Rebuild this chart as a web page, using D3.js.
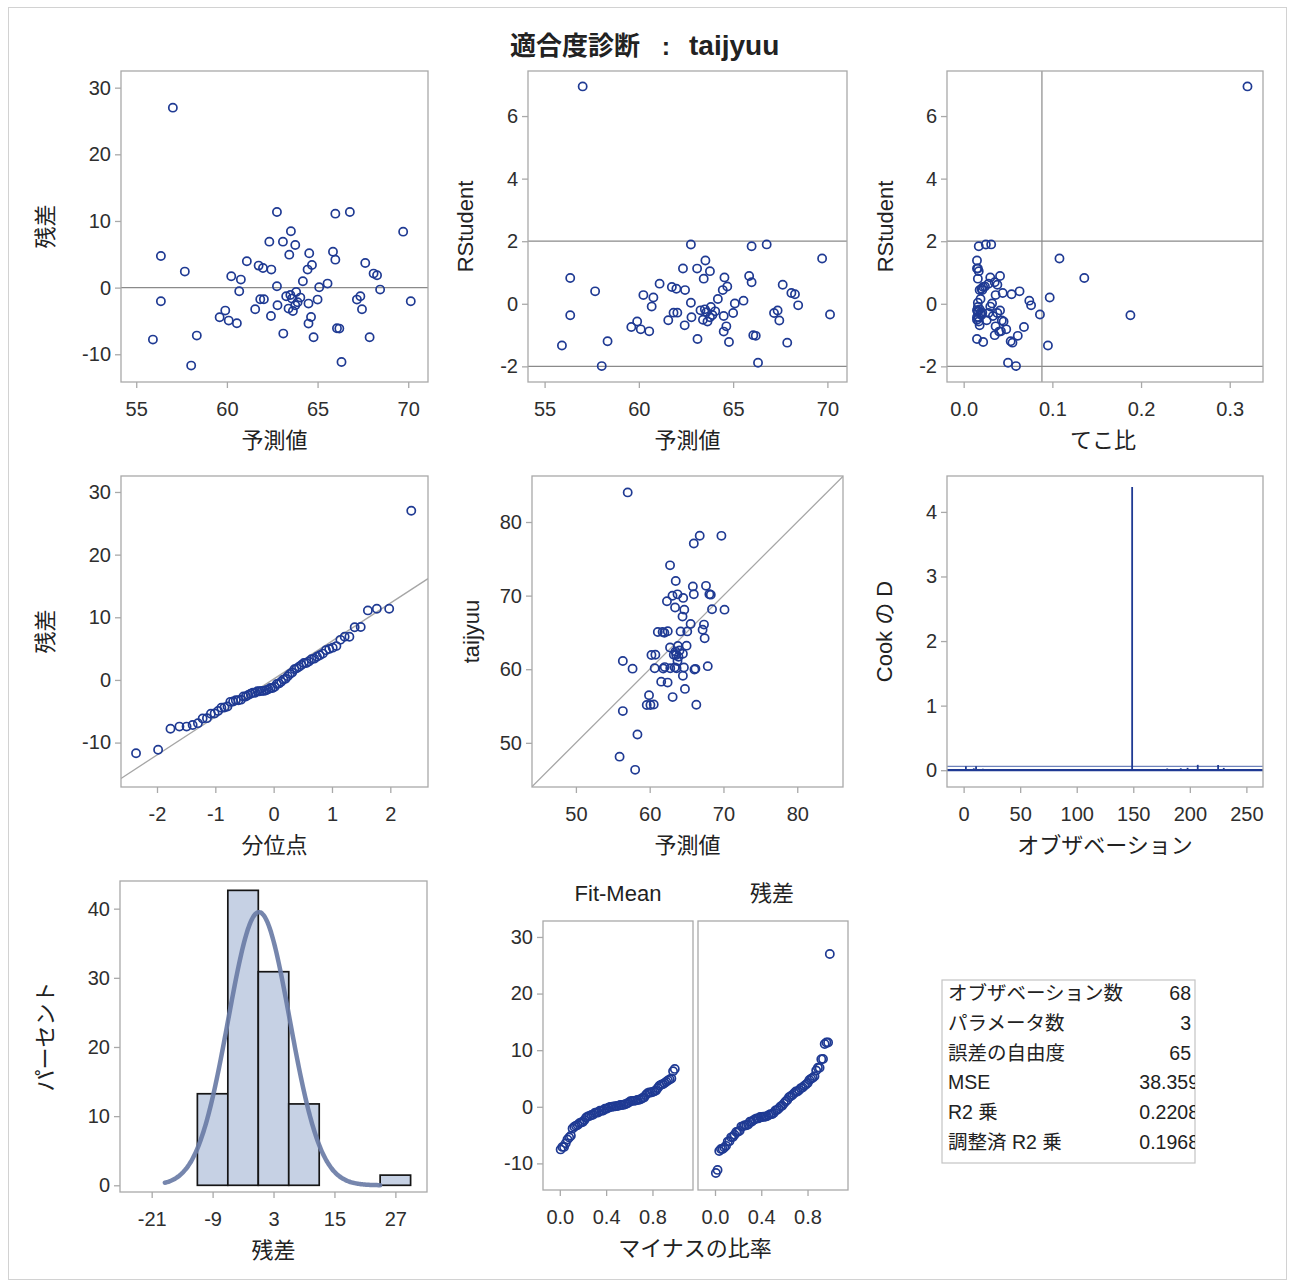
<!DOCTYPE html>
<html>
<head>
<meta charset="utf-8">
<script src="https://cdn.jsdelivr.net/npm/d3@7"></script>
<style>
  body { margin: 0; background: #fff; }
  text { font-family: "Liberation Sans", "Noto Sans CJK JP", sans-serif; }
</style>
</head>
<body>
<div id="chart"></div>
<script>
const predicted = [57.02, 56.36, 56.36, 55.92, 57.68, 58.03, 58.34, 59.6, 59.91, 60.1,
  60.55, 60.24, 60.77, 60.68, 61.1, 61.56, 61.75, 61.99, 62.45, 61.84,
  62.04, 62.34, 62.43, 62.76, 62.76, 62.79, 63.09, 63.11, 63.44, 63.53,
  63.77, 63.27, 63.4, 63.59, 63.77, 63.82, 63.64, 64.05, 64.19, 64.45,
  64.54, 64.69, 64.5, 64.64, 64.5, 64.78, 65.0, 65.09, 65.55, 65.85,
  65.98, 65.98, 66.07, 66.2, 66.32, 66.78, 67.17, 67.36, 67.45, 67.63,
  67.87, 68.09, 68.28, 68.45, 69.72, 70.14, 63.5, 63.9];
const residual = [27.0, 4.75, -2.05, -7.8, 2.4, -11.7, -7.2, -4.45, -3.45, -4.95,
  -5.35, 1.7, 1.2, -0.55, 3.95, -3.25, 3.3, 2.95, 2.7, -1.75,
  -1.75, 6.9, -4.25, 11.35, 0.2, -2.65, 6.9, -6.9, 4.95, 8.45,
  6.4, -1.3, -3.15, -1.65, -2.65, -0.65, -3.5, -1.5, 0.95, 2.7,
  5.15, 3.4, -2.4, -4.4, -5.4, -7.45, -1.8, 0.05, 0.6, 5.4,
  4.2, 11.1, -6.1, -6.15, -11.15, 11.35, -1.8, -1.3, -3.25, 3.7,
  -7.45, 2.1, 1.85, -0.3, 8.4, -2.05, -1.1, -2.2];
const leverage = [0.32, 0.136, 0.188, 0.095, 0.063, 0.059, 0.053, 0.068, 0.045, 0.048,
  0.042, 0.036, 0.097, 0.03, 0.028, 0.026, 0.022, 0.02, 0.018, 0.021,
  0.019, 0.016, 0.018, 0.025, 0.016, 0.017, 0.015, 0.015, 0.016, 0.015,
  0.017, 0.015, 0.015, 0.016, 0.015, 0.016, 0.017, 0.016, 0.019, 0.021,
  0.03, 0.024, 0.033, 0.036, 0.04, 0.022, 0.028, 0.032, 0.074, 0.041,
  0.035, 0.017, 0.035, 0.061, 0.05, 0.031, 0.038, 0.041, 0.043, 0.038,
  0.055, 0.044, 0.054, 0.076, 0.108, 0.086, 0.018, 0.02];
const obsNo = [149, 230, 96, 2, 57, 225, 180, 33, 71, 120,
  164, 5, 88, 140, 19, 201, 44, 108, 173, 26,
  63, 132, 213, 9, 81, 155, 238, 14, 101, 187,
  47, 126, 218, 38, 92, 168, 7, 115, 196, 52,
  143, 234, 23, 76, 159, 209, 30, 84, 136, 177,
  66, 242, 112, 17, 11, 198, 41, 104, 152, 221,
  192, 60, 128, 184, 207, 99, 70, 146];

const statLabels = ["オブザベーション数", "パラメータ数", "誤差の自由度", "MSE", "R2 乗", "調整済 R2 乗"];
const statValues = ["68", "3", "65", "38.359", "0.2208", "0.1968"];
const mse = 38.359, nParams = 3;

const histThresholds = [-12, -6, 0, 6, 12, 18, 24, 30];

// ---- derived regression diagnostics ----
const n = predicted.length;
const observed = predicted.map((p, i) => p + residual[i]);
const rStd = residual.map((e, i) => e / Math.sqrt(mse * (1 - leverage[i])));
const rstudent = rStd.map(r => r * Math.sqrt((n - nParams - 1) / (n - nParams - r * r)));
const cooksD = rStd.map((r, i) => r * r / nParams * leverage[i] / (1 - leverage[i]));

function probit(p) {
  const a = [-3.969683028665376e+01, 2.209460984245205e+02, -2.759285104469687e+02, 1.383577518672690e+02, -3.066479806614716e+01, 2.506628277459239e+00];
  const b = [-5.447609879822406e+01, 1.615858368580409e+02, -1.556989798598866e+02, 6.680131188771972e+01, -1.328068155288572e+01];
  const c = [-7.784894002430293e-03, -3.223964580411365e-01, -2.400758277161838e+00, -2.549732539343734e+00, 4.374664141464968e+00, 2.938163982698783e+00];
  const d = [7.784695709041462e-03, 3.224671290700398e-01, 2.445134137142996e+00, 3.754408661907416e+00];
  const tail = q => (((((c[0] * q + c[1]) * q + c[2]) * q + c[3]) * q + c[4]) * q + c[5]) / ((((d[0] * q + d[1]) * q + d[2]) * q + d[3]) * q + 1);
  if (p < 0.02425) return tail(Math.sqrt(-2 * Math.log(p)));
  if (p > 1 - 0.02425) return -tail(Math.sqrt(-2 * Math.log(1 - p)));
  const q = p - 0.5, r = q * q;
  return (((((a[0] * r + a[1]) * r + a[2]) * r + a[3]) * r + a[4]) * r + a[5]) * q /
    (((((b[0] * r + b[1]) * r + b[2]) * r + b[3]) * r + b[4]) * r + 1);
}

const resMean = d3.mean(residual), resSd = d3.deviation(residual);
const sortedRes = residual.slice().sort(d3.ascending);
const qq = sortedRes.map((v, i) => ({q: probit((i + 1 - 0.375) / (n + 0.25)), v}));
const predMean = d3.mean(predicted);
const fitSpread = predicted.map(p => p - predMean).sort(d3.ascending).map((v, i) => ({f: (i + 0.5) / n, v}));
const resSpread = sortedRes.map((v, i) => ({f: (i + 0.5) / n, v}));

// ---- drawing ----
const W = 1289, H = 1282;
const MARK = "#1f3a93", FRAME = "#a9a9a9", REF = "#8a8a8a";
const svg = d3.select("#chart").append("svg").attr("width", W).attr("height", H);
svg.append("rect").attr("x", 8.5).attr("y", 7.5).attr("width", 1278).attr("height", 1272)
  .attr("fill", "none").attr("stroke", "#d2d2d2");

// title
svg.append("text").attr("x", 640).attr("y", 55).attr("text-anchor", "end")
  .attr("font-size", 26).attr("font-weight", "bold").attr("fill", "#222").text("適合度診断");
svg.append("text").attr("x", 666).attr("y", 55).attr("text-anchor", "middle")
  .attr("font-size", 25).attr("font-weight", "bold").attr("fill", "#222").text(":");
svg.append("text").attr("x", 689).attr("y", 55)
  .attr("font-size", 28).attr("font-weight", "bold").attr("fill", "#222").text("taijyuu");

let clipCount = 0;
const dash = spec => d => d3.format(spec)(d).replace("−", "-");

function makePanel(box, xDom, yDom) {
  const id = "clip" + (clipCount++);
  svg.append("clipPath").attr("id", id).append("rect")
    .attr("x", box.x0).attr("y", box.y0).attr("width", box.x1 - box.x0).attr("height", box.y1 - box.y0);
  const g = svg.append("g");
  const x = d3.scaleLinear().domain(xDom).range([box.x0, box.x1]);
  const y = d3.scaleLinear().domain(yDom).range([box.y1, box.y0]);
  const plot = g.append("g").attr("clip-path", `url(#${id})`);
  return {g, x, y, plot, box};
}

function frame(p) {
  p.g.append("rect").attr("x", p.box.x0).attr("y", p.box.y0)
    .attr("width", p.box.x1 - p.box.x0).attr("height", p.box.y1 - p.box.y0)
    .attr("fill", "none").attr("stroke", FRAME).attr("stroke-width", 1.3);
}

function styleAxis(sel) {
  sel.select(".domain").remove();
  sel.selectAll(".tick line").attr("stroke", FRAME).attr("stroke-width", 1.3);
  sel.selectAll(".tick text").attr("font-size", 20).attr("fill", "#2e2e2e")
    .attr("font-family", "Liberation Sans, sans-serif");
}

function xAxis(p, ticks, fmt) {
  p.g.append("g").attr("transform", `translate(0,${p.box.y1})`)
    .call(d3.axisBottom(p.x).tickValues(ticks).tickFormat(fmt).tickSize(6).tickPadding(14))
    .call(styleAxis);
}

function yAxis(p, ticks, fmt) {
  p.g.append("g").attr("transform", `translate(${p.box.x0},0)`)
    .call(d3.axisLeft(p.y).tickValues(ticks).tickFormat(fmt).tickSize(6).tickPadding(4))
    .call(styleAxis);
}

function xLabel(p, txt, y, cx) {
  svg.append("text").attr("x", cx ?? (p.box.x0 + p.box.x1) / 2).attr("y", y)
    .attr("text-anchor", "middle").attr("dominant-baseline", "central")
    .attr("font-size", 22).attr("fill", "#222").text(txt);
}

function yLabel(p, txt, x) {
  const cy = (p.box.y0 + p.box.y1) / 2;
  svg.append("text").attr("transform", `translate(${x},${cy}) rotate(-90)`)
    .attr("text-anchor", "middle").attr("dominant-baseline", "central")
    .attr("font-size", 22).attr("fill", "#222").text(txt);
}

function hline(p, v, color, w) {
  p.plot.append("line").attr("x1", p.box.x0).attr("x2", p.box.x1)
    .attr("y1", p.y(v)).attr("y2", p.y(v)).attr("stroke", color).attr("stroke-width", w);
}

function vline(p, v, color, w) {
  p.plot.append("line").attr("y1", p.box.y0).attr("y2", p.box.y1)
    .attr("x1", p.x(v)).attr("x2", p.x(v)).attr("stroke", color).attr("stroke-width", w);
}

function markers(p, xs, ys) {
  p.plot.append("g").selectAll("circle").data(xs).join("circle")
    .attr("cx", d => p.x(d)).attr("cy", (d, i) => p.y(ys[i])).attr("r", 4.1)
    .attr("fill", "none").attr("stroke", MARK).attr("stroke-width", 1.7);
}

// 1. residual vs predicted
const p1 = makePanel({x0: 121, x1: 428, y0: 71, y1: 382}, [54.16, 71.09], [-14.16, 32.5]);
hline(p1, 0, REF, 1.2);
markers(p1, predicted, residual);
frame(p1);
xAxis(p1, [55, 60, 65, 70], dash("d"));
yAxis(p1, [-10, 0, 10, 20, 30], dash("d"));
xLabel(p1, "予測値", 440);
yLabel(p1, "残差", 45);

// 2. RStudent vs predicted
const p2 = makePanel({x0: 528, x1: 847, y0: 71, y1: 382}, [54.12, 71.04], [-2.5, 7.44]);
hline(p2, 2, REF, 1.2);
hline(p2, -2, REF, 1.2);
markers(p2, predicted, rstudent);
frame(p2);
xAxis(p2, [55, 60, 65, 70], dash("d"));
yAxis(p2, [-2, 0, 2, 4, 6], dash("d"));
xLabel(p2, "予測値", 440);
yLabel(p2, "RStudent", 465);

// 3. RStudent vs leverage
const p3 = makePanel({x0: 947, x1: 1263, y0: 71, y1: 382}, [-0.0188, 0.3375], [-2.5, 7.44]);
hline(p3, 2, REF, 1.2);
hline(p3, -2, REF, 1.2);
vline(p3, 2 * nParams / n, REF, 1.2);
markers(p3, leverage, rstudent);
frame(p3);
xAxis(p3, [0, 0.1, 0.2, 0.3], dash(".1f"));
yAxis(p3, [-2, 0, 2, 4, 6], dash("d"));
xLabel(p3, "てこ比", 440, 1103);
yLabel(p3, "RStudent", 885);

// 4. normal quantile plot of residuals
const p4 = makePanel({x0: 121, x1: 428, y0: 476, y1: 787}, [-2.617, 2.646], [-17.09, 32.55]);
p4.plot.append("line")
  .attr("x1", p4.x(-2.617)).attr("y1", p4.y(resMean - 2.617 * resSd))
  .attr("x2", p4.x(2.646)).attr("y2", p4.y(resMean + 2.646 * resSd))
  .attr("stroke", "#a6a6a6").attr("stroke-width", 1.3);
markers(p4, qq.map(d => d.q), qq.map(d => d.v));
frame(p4);
xAxis(p4, [-2, -1, 0, 1, 2], dash("d"));
yAxis(p4, [-10, 0, 10, 20, 30], dash("d"));
xLabel(p4, "分位点", 845);
yLabel(p4, "残差", 45);

// 5. observed vs predicted
const p5 = makePanel({x0: 532, x1: 843, y0: 476, y1: 787}, [44.05, 86.2], [44.0, 86.25]);
p5.plot.append("line")
  .attr("x1", p5.x(44)).attr("y1", p5.y(44)).attr("x2", p5.x(86.3)).attr("y2", p5.y(86.3))
  .attr("stroke", "#a6a6a6").attr("stroke-width", 1.3);
markers(p5, predicted, observed);
frame(p5);
xAxis(p5, [50, 60, 70, 80], dash("d"));
yAxis(p5, [50, 60, 70, 80], dash("d"));
xLabel(p5, "予測値", 845);
yLabel(p5, "taijyuu", 471);

// 6. Cook's D by observation
const p6 = makePanel({x0: 947, x1: 1263, y0: 476, y1: 787}, [-14.7, 264.7], [-0.26, 4.556]);
hline(p6, 4 / n, "#6f83bb", 1.2);
p6.plot.append("g").selectAll("line").data(obsNo).join("line")
  .attr("x1", d => p6.x(d)).attr("x2", d => p6.x(d))
  .attr("y1", p6.y(0)).attr("y2", (d, i) => p6.y(cooksD[i]))
  .attr("stroke", MARK).attr("stroke-width", 1.8);
hline(p6, 0, MARK, 2.2);
frame(p6);
xAxis(p6, [0, 50, 100, 150, 200, 250], dash("d"));
yAxis(p6, [0, 1, 2, 3, 4], dash("d"));
xLabel(p6, "オブザベーション", 845, 1105);
yLabel(p6, "Cook の D", 884);

// 7. histogram of residuals with normal density
const p7 = makePanel({x0: 120, x1: 427, y0: 881, y1: 1192}, [-27.24, 33.23], [-0.97, 44.0]);
const bins = d3.bin().domain([histThresholds[0], histThresholds[histThresholds.length - 1]])
  .thresholds(histThresholds.slice(1, -1))(residual);
const binWidth = histThresholds[1] - histThresholds[0];
p7.plot.append("g").selectAll("rect").data(bins.filter(b => b.length > 0)).join("rect")
  .attr("x", b => p7.x(b.x0)).attr("width", b => p7.x(b.x1) - p7.x(b.x0))
  .attr("y", b => p7.y(b.length / n * 100)).attr("height", b => p7.y(0) - p7.y(b.length / n * 100))
  .attr("fill", "#c6d1e4").attr("stroke", "#151515").attr("stroke-width", 1.7);
const curveX = d3.range(-18.4, 24.01, 0.2);
const dens = x => 100 * binWidth * Math.exp(-0.5 * ((x - resMean) / resSd) ** 2) / (resSd * Math.sqrt(2 * Math.PI));
p7.plot.append("path")
  .attr("d", d3.line().x(d => p7.x(d)).y(d => p7.y(dens(d))).curve(d3.curveBasis)(curveX))
  .attr("fill", "none").attr("stroke", "#6a7ca6").attr("stroke-width", 4.5)
  .attr("stroke-linecap", "round").attr("stroke-opacity", 0.92);
frame(p7);
xAxis(p7, [-21, -9, 3, 15, 27], dash("d"));
yAxis(p7, [0, 10, 20, 30, 40], dash("d"));
xLabel(p7, "残差", 1250);
yLabel(p7, "パーセント", 45);

// 8. residual-fit spread plot
const spreadY = [-14.7, 32.82];
const p8a = makePanel({x0: 543, x1: 693, y0: 921, y1: 1190}, [-0.145, 1.15], spreadY);
const p8b = makePanel({x0: 698, x1: 848, y0: 921, y1: 1190}, [-0.147, 1.15], spreadY);
markers(p8a, fitSpread.map(d => d.f), fitSpread.map(d => d.v));
markers(p8b, resSpread.map(d => d.f), resSpread.map(d => d.v));
frame(p8a);
frame(p8b);
xAxis(p8a, [0, 0.4, 0.8], dash(".1f"));
xAxis(p8b, [0, 0.4, 0.8], dash(".1f"));
yAxis(p8a, [-10, 0, 10, 20, 30], dash("d"));
svg.append("text").attr("x", 618).attr("y", 893).attr("text-anchor", "middle")
  .attr("dominant-baseline", "central").attr("font-size", 22).attr("fill", "#222").text("Fit-Mean");
svg.append("text").attr("x", 772).attr("y", 893).attr("text-anchor", "middle")
  .attr("dominant-baseline", "central").attr("font-size", 22).attr("fill", "#222").text("残差");
xLabel(p8a, "マイナスの比率", 1248, 695);

// 9. fit statistics table
const tbl = {x0: 942, x1: 1195, y0: 980, y1: 1163};
svg.append("clipPath").attr("id", "tblclip").append("rect")
  .attr("x", tbl.x0).attr("y", tbl.y0).attr("width", tbl.x1 - tbl.x0).attr("height", tbl.y1 - tbl.y0);
svg.append("rect").attr("x", tbl.x0).attr("y", tbl.y0)
  .attr("width", tbl.x1 - tbl.x0).attr("height", tbl.y1 - tbl.y0)
  .attr("fill", "none").attr("stroke", "#c4c4c4").attr("stroke-width", 1.2);
const rowY = d3.scalePoint().domain(statLabels).range([993, 1142]);
const tg = svg.append("g").attr("clip-path", "url(#tblclip)");
tg.selectAll("text.lab").data(statLabels).join("text").attr("class", "lab")
  .attr("x", 948).attr("y", d => rowY(d)).attr("dominant-baseline", "central")
  .attr("font-size", 19.5).attr("fill", "#222").text(d => d);
tg.selectAll("text.val").data(statValues).join("text").attr("class", "val")
  .attr("x", d => d.includes(".") ? 1199 : 1191).attr("y", (d, i) => rowY(statLabels[i]))
  .attr("text-anchor", "end").attr("dominant-baseline", "central")
  .attr("font-size", 19.5).attr("fill", "#222").text(d => d);
</script>
</body>
</html>
